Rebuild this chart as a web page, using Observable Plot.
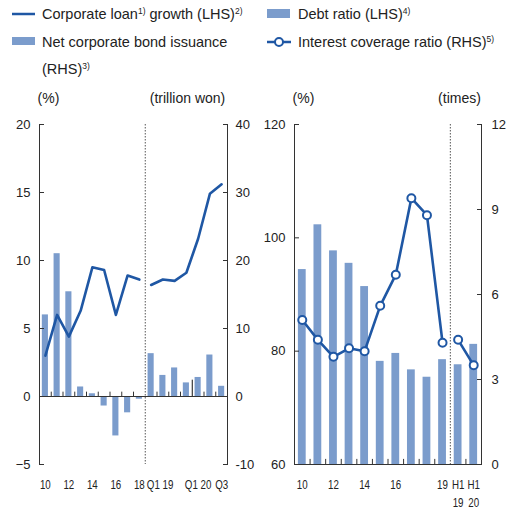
<!DOCTYPE html>
<html><head><meta charset="utf-8">
<script src="https://cdn.jsdelivr.net/npm/d3@7"></script>
<script src="https://cdn.jsdelivr.net/npm/@observablehq/plot@0.6"></script>
<style>
body{margin:0;background:#fff;font-family:"Liberation Sans",Arial,sans-serif;color:#222;}
#wrap{position:relative;width:506px;height:510px;overflow:hidden}
.lg{position:absolute;font-size:14.5px;line-height:16px;white-space:nowrap;color:#222}
.lg sup{font-size:8.5px;vertical-align:5px;line-height:0}
.sw{position:absolute}
#left,#right{position:absolute;top:80px}
#left{left:0;z-index:2}#right{left:250px;z-index:1}
svg{overflow:visible}
</style></head><body><div id="wrap">
<svg class="sw" style="left:12px;top:8px" width="23" height="12"><line x1="0" x2="23" y1="6" y2="6" stroke="#1f57a4" stroke-width="2.5"/></svg>
<div class="lg" style="left:42px;top:6px">Corporate loan<sup>1)</sup> growth (LHS)<sup>2)</sup></div>
<div class="sw" style="left:12px;top:37px;width:23px;height:8px;background:#7b9ccc"></div>
<div class="lg" style="left:42px;top:34px">Net corporate bond issuance</div>
<div class="lg" style="left:42px;top:61px">(RHS)<sup>3)</sup></div>
<div class="sw" style="left:267px;top:9px;width:23px;height:9px;background:#7b9ccc"></div>
<div class="lg" style="left:298px;top:6px">Debt ratio (LHS)<sup>4)</sup></div>
<svg class="sw" style="left:267px;top:35px" width="24" height="14"><line x1="0" x2="24" y1="7" y2="7" stroke="#1f57a4" stroke-width="2.5"/><circle cx="12" cy="7" r="4" fill="#fff" stroke="#1f57a4" stroke-width="2"/></svg>
<div class="lg" style="left:298px;top:34px">Interest coverage ratio (RHS)<sup>5)</sup></div>
<div id="left"></div><div id="right"></div>
</div>
<script>
// ---- data ----
const leftCats = ["10","11","12","13","14","15","16","17","18","19Q1","19Q2","19Q3","19Q4","20Q1","20Q2","20Q3"];
const loanGrowth = [3.0,6.0,4.4,6.3,9.5,9.3,6.0,8.9,8.6, 8.2,8.6,8.5,9.1,11.6,14.9,15.6];   // %, LHS
const bondIssuance = [12.0,21.0,15.4,1.4,0.4,-1.4,-5.8,-2.4,-0.4, 6.3,3.1,4.2,2.0,2.8,6.1,1.5]; // trillion won, RHS
const leftTickLabels = {"10":"10","12":"12","14":"14","16":"16","18":"18","20Q1":"Q1 20","20Q3":"Q3"};
const leftShiftedLabel = {"19Q1":"Q1 19"};
const leftYTicks = [-5,0,5,10,15,20];
const leftY2Ticks = [-10,0,10,20,30,40];

const rightCats = ["10","11","12","13","14","15","16","17","18","19","H1 19","H1 20"];
const debtRatio = [94.4,102.3,97.7,95.5,91.4,78.2,79.6,76.7,75.4,78.5,77.6,81.2];      // %, LHS
const interestCoverage = [5.1,4.4,3.8,4.1,4.0,5.6,6.7,9.4,8.8,4.3,4.4,3.5];            // times, RHS
const rightTickLabels = {"10":"10","12":"12","14":"14","16":"16","19":"19","H1 19":"H1\n19","H1 20":"H1\n20"};
const rightYTicks = [60,80,100,120];
const rightY2Ticks = [0,3,6,9,12];

const barColor = "#7b9ccc", lineColor = "#1f57a4", axisColor = "#333";
const xLabelStyle = {fontSize:13, lineAnchor:"top", lineHeight:1.38, dy:11.5, frameAnchor:"bottom"};
const titleStyle = {fontSize:14, textAnchor:"middle", dy:-31};

// ---- left panel ----
const L = leftCats.map((c,i)=>({i, cat:c, loan:loanGrowth[i], bond:bondIssuance[i], seg: c.includes("Q") ? "q" : "a"}));
const lIdx = leftCats.map((c,i)=>i);
const lBound = lIdx.slice(0,-1).map(i=>i+0.5).filter(b=>b!==8.5 && b!==12.5);
const lLab = L.filter(d=>leftTickLabels[d.cat]).map(d=>({i:d.i, label:leftTickLabels[d.cat]}));
const lLab2 = L.filter(d=>leftShiftedLabel[d.cat]).map(d=>({i:d.i, label:leftShiftedLabel[d.cat]}));
const y2ToY = v => v/2;

const left = Plot.plot({
  width:256, height:430, marginLeft:39, marginRight:29, marginTop:44, marginBottom:46,
  x:{type:"linear", domain:[-0.5, leftCats.length-0.5], axis:null},
  y:{domain:[-5,20]},
  style:{fontFamily:"'Liberation Sans',Arial,sans-serif", fontSize:"13px", color:"#222", background:"transparent", overflow:"visible"},
  marks:[
    Plot.ruleX(lBound, {x:d=>d, y1:0, y2:0.32, stroke:axisColor}),
    Plot.ruleX([12.5], {x:d=>d, y1:0, y2:1.2, stroke:"#111"}),
    Plot.rect(L, {x1:d=>d.i-0.26, x2:d=>d.i+0.26, y1:0, y2:d=>y2ToY(d.bond), fill:barColor}),
    Plot.ruleY([0], {stroke:axisColor}),
    Plot.ruleX([-0.5, leftCats.length-0.5], {stroke:axisColor}),
    Plot.ruleX([8.5], {stroke:"#555", strokeDasharray:"1.5,1.5"}),
    Plot.line(L, {x:"i", y:"loan", z:"seg", stroke:lineColor, strokeWidth:2.6}),
    Plot.axisY({ticks:leftYTicks, label:null, tickSize:5, insetLeft:5, tickPadding:9, stroke:axisColor}),
    Plot.axisY({anchor:"right", label:null, ticks:leftY2Ticks.map(y2ToY), tickFormat:d=>String(d*2), tickSize:5, insetRight:5, tickPadding:8, stroke:axisColor}),
    Plot.text(lLab, {x:"i", text:"label", ...xLabelStyle}),
    Plot.text(lLab2, {x:"i", text:"label", ...xLabelStyle, dx:9}),
    Plot.text(["(%)"], {text:d=>d, frameAnchor:"top-left", dx:9, ...titleStyle}),
    Plot.text(["(trillion won)"], {text:d=>d, frameAnchor:"top-right", dx:-40, ...titleStyle})
  ]
});
document.getElementById("left").append(left);

// ---- right panel ----
const R = rightCats.map((c,i)=>({i, cat:c, debt:debtRatio[i], ic:interestCoverage[i], seg: c.startsWith("H1") ? "h" : "a"}));
const rIdx = rightCats.map((c,i)=>i);
const rBound = rIdx.slice(0,-1).map(i=>i+0.5).filter(b=>b!==9.5);
const rLab = R.filter(d=>rightTickLabels[d.cat]).map(d=>({i:d.i, label:rightTickLabels[d.cat]}));
const icToY = v => 60 + v*5;

const right = Plot.plot({
  width:256, height:430, marginLeft:44, marginRight:25, marginTop:44, marginBottom:46,
  x:{type:"linear", domain:[-0.5, rightCats.length-0.5], axis:null},
  y:{domain:[60,120]},
  style:{fontFamily:"'Liberation Sans',Arial,sans-serif", fontSize:"13px", color:"#222", background:"transparent", overflow:"visible"},
  marks:[
    Plot.ruleX(rBound, {x:d=>d, y1:60, y2:60.9, stroke:axisColor}),
    Plot.rect(R, {x1:d=>d.i-0.25, x2:d=>d.i+0.25, y1:60, y2:"debt", fill:barColor}),
    Plot.ruleY([60], {stroke:axisColor}),
    Plot.ruleX([-0.5, rightCats.length-0.5], {stroke:axisColor}),
    Plot.ruleX([9.5], {stroke:"#555", strokeDasharray:"1.5,1.5"}),
    Plot.line(R, {x:"i", y:d=>icToY(d.ic), z:"seg", stroke:lineColor, strokeWidth:2.6}),
    Plot.dot(R, {x:"i", y:d=>icToY(d.ic), r:4, fill:"#fff", stroke:lineColor, strokeWidth:2}),
    Plot.axisY({ticks:rightYTicks, label:null, tickSize:5, insetLeft:5, tickPadding:9, stroke:axisColor}),
    Plot.axisY({anchor:"right", label:null, ticks:rightY2Ticks.map(icToY), tickFormat:d=>String((d-60)/5), tickSize:5, insetRight:5, tickPadding:10, stroke:axisColor}),
    Plot.text(rLab, {x:"i", text:"label", ...xLabelStyle}),
    Plot.text(["(%)"], {text:d=>d, frameAnchor:"top-left", dx:9, ...titleStyle}),
    Plot.text(["(times)"], {text:d=>d, frameAnchor:"top-right", dx:-22, ...titleStyle})
  ]
});
document.getElementById("right").append(right);

// condense the x tick labels horizontally (the reference uses a narrow face)
const xLabelSet = new Set([...Object.values(leftTickLabels), ...Object.values(leftShiftedLabel), ...Object.values(rightTickLabels)].map(s => s.replace(/\s/g, "")));
for (const svg of [left, right]) {
  svg.querySelectorAll("text").forEach(t => {
    const g = t.closest("g");
    const al = g ? (g.getAttribute("aria-label") || "") : "";
    if (al.includes("axis")) return;
    if (!xLabelSet.has(t.textContent.replace(/\s/g, ""))) return;
    const tr = t.getAttribute("transform");
    if (tr) t.setAttribute("transform", tr + " scale(0.75,1)");
    else {
      const x = +(t.getAttribute("x") || 0);
      t.setAttribute("transform", `translate(${x},0) scale(0.75,1) translate(${-x},0)`);
    }
  });
}
</script>
</body></html>
